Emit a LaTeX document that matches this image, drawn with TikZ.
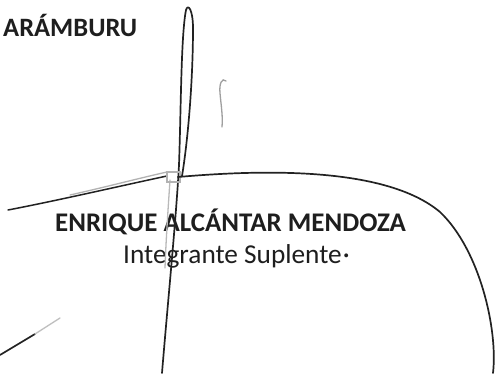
\documentclass[tikz,border=0pt]{standalone}
\usepackage{fontspec}
\setmainfont{Carlito}
\definecolor{ink}{HTML}{1E1E1E}
\definecolor{pen}{HTML}{222222}
\begin{document}
\begin{tikzpicture}[x=1pt,y=-1pt,
  label/.style={inner sep=0pt,anchor=base west,text=ink,font=\fontsize{27.3}{30}\selectfont},
  sig/.style={draw=pen,line width=1.7pt,line cap=round,line join=round},
  faint/.style={draw=gray!55,line width=1.3pt,line cap=round}]
\useasboundingbox[fill=white] (0,0) rectangle (498,382);
% texts
\node[label,font=\fontsize{26.5}{30}\selectfont\bfseries] (surname) at (3,37) {ARÁMBURU};
\node[label,font=\fontsize{26.9}{30}\selectfont\bfseries] (name) at (55,232) {ENRIQUE ALCÁNTAR MENDOZA};
\node[label] (role) at (123,263) {Integrante Suplente\kern1pt·};
% signature: long vertical loop
\draw[sig] (162,373) .. controls (168,300) and (176,220) .. (179,165)
  .. controls (181,110) and (181,35) .. (186,10)
  .. controls (188,3) and (193,10) .. (193,28)
  .. controls (193,80) and (188,140) .. (182,176);
\draw[faint] (170,180) .. controls (168,210) and (166,240) .. (165,268);
% small hook
\draw[faint,draw=gray!75] (226,81) .. controls (222,77) and (219,84) .. (220,93)
  .. controls (221,105) and (223,116) .. (222,127);
% horizontal stroke, left part
\draw[sig,line width=1.5pt] (8,210) .. controls (60,200) and (120,186) .. (167,176);
\draw[faint,draw=gray!60] (70,195) .. controls (110,186) and (140,178) .. (167,172);
\draw[faint,draw=gray!60] (167,172) -- (180,172) -- (180,182) -- (167,182) -- cycle;
% horizontal stroke, arc to the right
\draw[sig] (178,177) .. controls (280,168) and (390,170) .. (440,212)
  .. controls (480,250) and (498,330) .. (493,373);
% lower left stroke
\draw[sig,line width=1.7pt] (0,355) -- (35,334);
\draw[faint,draw=gray!50] (35,334) -- (60,318);
\end{tikzpicture}
\end{document}
